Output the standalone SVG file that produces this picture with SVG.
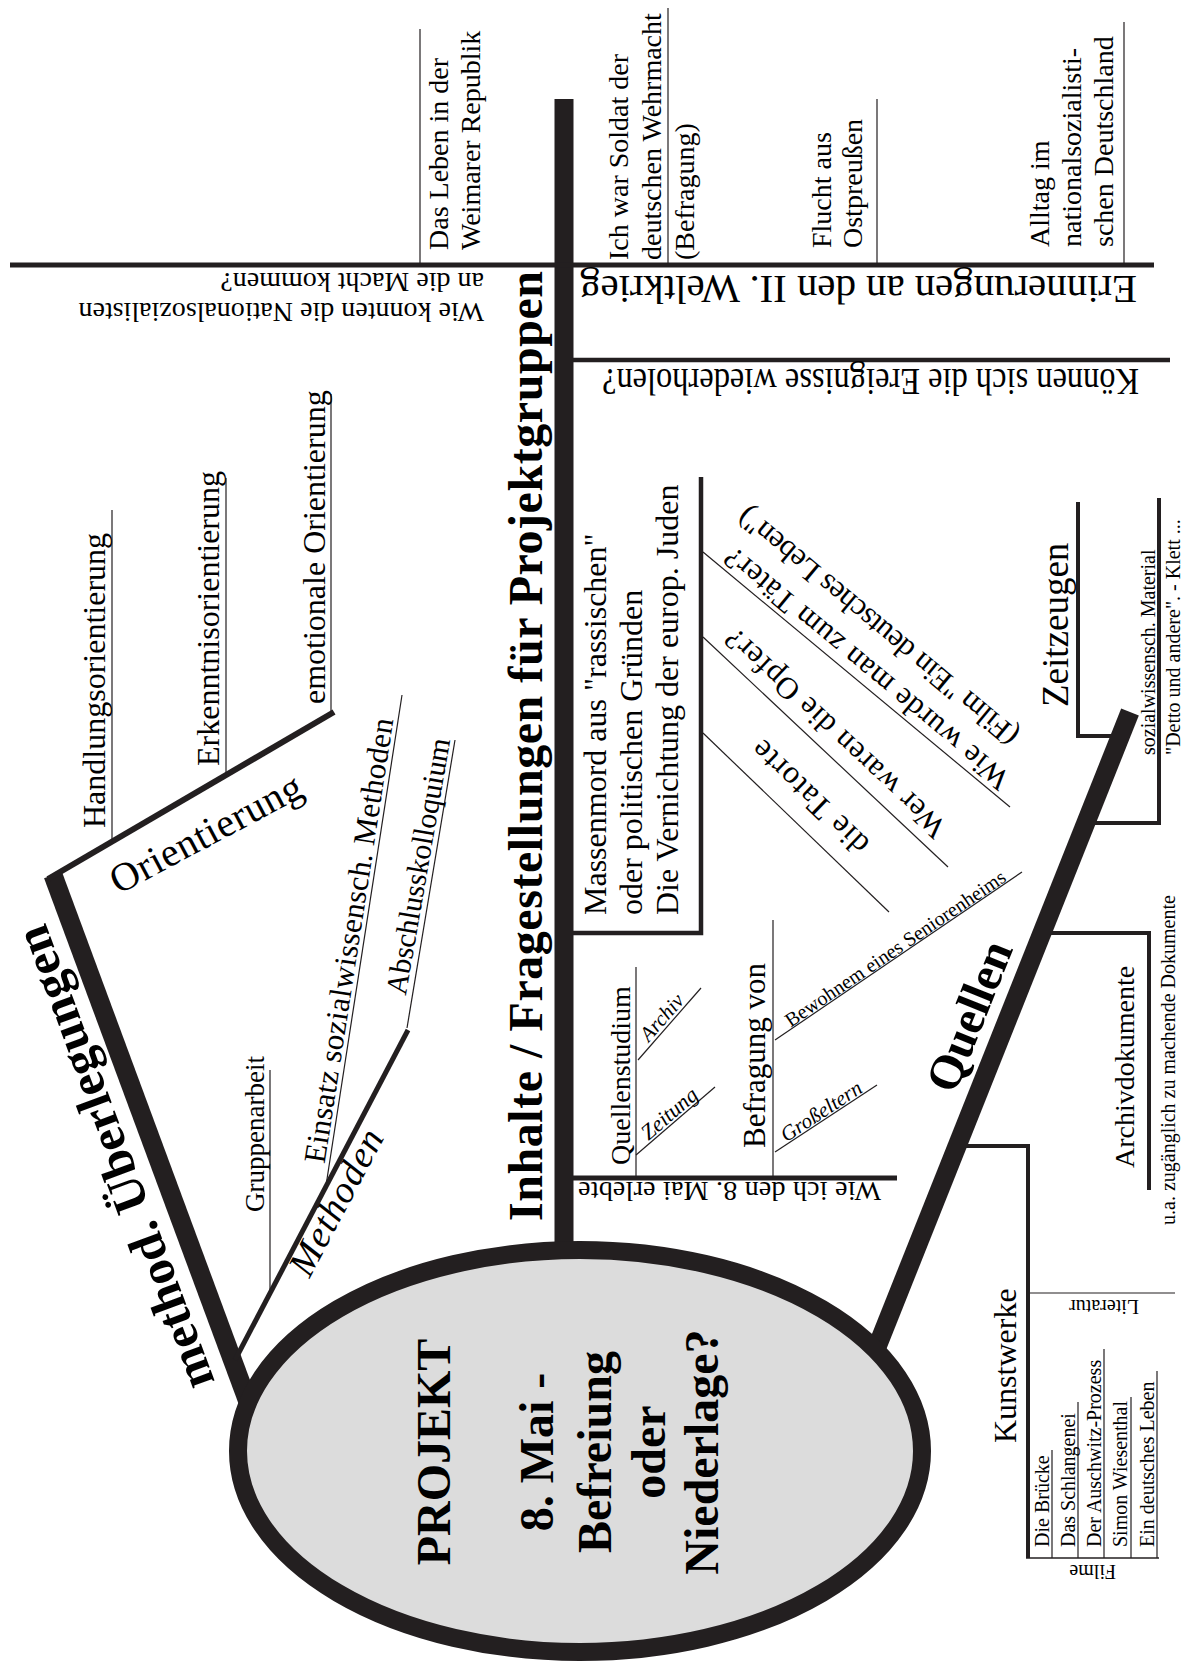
<svg xmlns="http://www.w3.org/2000/svg" width="1190" height="1668" viewBox="0 0 1190 1668">
<style>
.t{font-family:"Liberation Serif","Times New Roman",serif;fill:#000}
.b{font-weight:bold}
.i{font-style:italic}
.ln{stroke:#231f20;fill:none;stroke-linecap:butt}
.th{stroke-width:1.2}
.md{stroke-width:4.5}
.bar{stroke-width:19}
</style>
<rect width="1190" height="1668" fill="#fff"/>
<g id="connectors">
  <line class="ln bar" x1="564" y1="99" x2="564" y2="1252"/>
  <line class="ln" stroke-width="5" x1="10" y1="265" x2="1154" y2="265"/>
  <line class="ln md" x1="570" y1="360" x2="1170" y2="360"/>
  <line class="ln th" x1="420" y1="29" x2="420" y2="265"/>
  <line class="ln th" x1="668" y1="8" x2="668" y2="265"/>
  <line class="ln th" x1="877" y1="99" x2="877" y2="265"/>
  <line class="ln th" x1="1124" y1="22" x2="1124" y2="265"/>
  <line class="ln bar" x1="53" y1="875" x2="248" y2="1402"/>
  <line class="ln" stroke-width="6" x1="48" y1="879" x2="334" y2="712"/>
  <line class="ln th" x1="112" y1="510" x2="112" y2="843"/>
  <line class="ln th" x1="226" y1="478" x2="226" y2="776"/>
  <line class="ln th" x1="331" y1="394" x2="331" y2="715"/>
  <line class="ln" stroke-width="5" x1="235" y1="1360" x2="408" y2="1030"/>
  <line class="ln th" stroke="#666" x1="270" y1="1070" x2="270" y2="1294"/>
  <line class="ln th" x1="325" y1="1192" x2="402" y2="695"/>
  <line class="ln th" x1="407" y1="1028" x2="455" y2="740"/>
  <polyline class="ln md" points="570,933 701,933 701,477"/>
  <line class="ln th" x1="703" y1="552" x2="1010" y2="807"/>
  <line class="ln th" x1="703" y1="637" x2="948" y2="867"/>
  <line class="ln th" x1="703" y1="733" x2="889" y2="912"/>
  <line class="ln" stroke-width="5" x1="570" y1="1178" x2="897" y2="1178"/>
  <line class="ln th" x1="636" y1="967" x2="636" y2="1178"/>
  <line class="ln th" x1="773" y1="920" x2="773" y2="1178"/>
  <line class="ln th" x1="638" y1="1060" x2="701" y2="988"/>
  <line class="ln th" x1="636" y1="1155" x2="715" y2="1087"/>
  <line class="ln th" x1="775" y1="1040" x2="1022" y2="872"/>
  <line class="ln th" x1="775" y1="1152" x2="877" y2="1085"/>
  <line class="ln bar" x1="1130" y1="712" x2="875" y2="1352"/>
  <polyline class="ln" stroke-width="4" points="1078,502 1078,736 1118,736"/>
  <polyline class="ln" stroke-width="4" points="1159,498 1159,823 1092,823"/>
  <polyline class="ln" stroke-width="4" points="1045,933 1149,933 1149,1190"/>
  <polyline class="ln" stroke-width="4" points="960,1146 1028,1146 1028,1558"/>
  <line class="ln" stroke-width="1.6" x1="1026" y1="1558" x2="1159" y2="1558"/>
  <line class="ln th" x1="1030" y1="1293" x2="1175" y2="1293"/>
  <line class="ln th" x1="1052" y1="1450" x2="1052" y2="1558"/>
  <line class="ln th" x1="1078" y1="1402" x2="1078" y2="1558"/>
  <line class="ln th" x1="1104" y1="1349" x2="1104" y2="1558"/>
  <line class="ln th" x1="1131" y1="1397" x2="1131" y2="1558"/>
  <line class="ln th" x1="1157" y1="1371" x2="1157" y2="1558"/>
</g>
<g id="projekt">
  <ellipse cx="580" cy="1451" rx="342" ry="201" fill="#dcdcdc" stroke="#231f20" stroke-width="18"/>
  <text class="t b" font-size="48" text-anchor="middle" transform="translate(450 1452) rotate(-90)">PROJEKT</text>
  <text class="t b" font-size="48" text-anchor="middle" transform="translate(553 1452) rotate(-90)">8. Mai -</text>
  <text class="t b" font-size="48" text-anchor="middle" transform="translate(611 1452) rotate(-90)">Befreiung</text>
  <text class="t b" font-size="48" text-anchor="middle" transform="translate(665 1452) rotate(-90)">oder</text>
  <text class="t b" font-size="48" text-anchor="middle" transform="translate(718 1452) rotate(-90)">Niederlage?</text>
</g>
<g id="inhalte">
  <text class="t b" font-size="48" textLength="950" lengthAdjust="spacing" transform="translate(542 1221) rotate(-90)">Inhalte / Fragestellungen für Projektgruppen</text>
</g>
<g id="weimar">
  <text class="t" font-size="28" transform="translate(448 250) rotate(-90)"><tspan x="0" y="0">Das Leben in der</tspan><tspan x="0" y="32">Weimarer Republik</tspan></text>
</g>
<g id="machtergreifung">
  <text class="t" font-size="28" transform="translate(484 303) rotate(180)"><tspan x="0" y="0">Wie konnten die Nationalsozialisten</tspan><tspan x="0" y="30">an die Macht kommen?</tspan></text>
</g>
<g id="soldat">
  <text class="t" font-size="28" transform="translate(628 260) rotate(-90)"><tspan x="0" y="0">Ich war Soldat der</tspan><tspan x="0" y="33">deutschen Wehrmacht</tspan><tspan x="0" y="66">(Befragung)</tspan></text>
</g>
<g id="flucht">
  <text class="t" font-size="28" transform="translate(831 248) rotate(-90)"><tspan x="0" y="0">Flucht aus</tspan><tspan x="0" y="31">Ostpreußen</tspan></text>
</g>
<g id="alltag">
  <text class="t" font-size="28" transform="translate(1049 247) rotate(-90)"><tspan x="0" y="0">Alltag im</tspan><tspan x="0" y="32">nationalsozialisti-</tspan><tspan x="0" y="64">schen Deutschland</tspan></text>
</g>
<g id="erinnerungen">
  <text class="t" font-size="41" textLength="557" lengthAdjust="spacing" transform="translate(1137 276) rotate(180)">Erinnerungen an den II. Weltkrieg</text>
</g>
<g id="wiederholen">
  <text class="t" font-size="38" textLength="537" lengthAdjust="spacingAndGlyphs" transform="translate(1139 369) rotate(180)">Können sich die Ereignisse wiederholen?</text>
</g>
<g id="massenmord">
  <text class="t" font-size="32" transform="translate(606 915) rotate(-90)"><tspan x="0" y="0">Massenmord aus "rassischen"</tspan><tspan x="0" y="36">oder politischen Gründen</tspan><tspan x="0" y="72">Die Vernichtung der europ. Juden</tspan></text>
</g>
<g id="taeter">
  <text class="t" font-size="31" text-anchor="middle" textLength="360" lengthAdjust="spacing" transform="translate(873 661) rotate(-140.3)">Wie wurde man zum Täter?</text>
  <text class="t" font-size="31" text-anchor="middle" textLength="355" lengthAdjust="spacing" transform="translate(884 619) rotate(-140.3)">(Film "Ein deutsches Leben")</text>
</g>
<g id="opfer">
  <text class="t" font-size="31" text-anchor="middle" textLength="290" lengthAdjust="spacing" transform="translate(842 726) rotate(-136.8)">Wer waren die Opfer?</text>
</g>
<g id="tatorte">
  <text class="t" font-size="32" text-anchor="middle" textLength="150" lengthAdjust="spacing" transform="translate(817 790) rotate(-136.1)">die Tatorte</text>
</g>
<g id="mai-erlebt">
  <text class="t" font-size="28" textLength="303" lengthAdjust="spacing" transform="translate(881 1182) rotate(180)">Wie ich den 8. Mai erlebte</text>
</g>
<g id="quellenstudium">
  <text class="t" font-size="28" transform="translate(630 1165) rotate(-90)">Quellenstudium</text>
  <text class="t i" font-size="21" text-anchor="middle" transform="translate(667 1022) rotate(-48.8)">Archiv</text>
  <text class="t i" font-size="22" text-anchor="middle" transform="translate(674 1119) rotate(-40.7)">Zeitung</text>
</g>
<g id="befragung">
  <text class="t" font-size="31" transform="translate(765 1148) rotate(-90)">Befragung von</text>
  <text class="t" font-size="20" text-anchor="middle" textLength="262" lengthAdjust="spacing" transform="translate(899 954) rotate(-34.2)">Bewohnem eines Seniorenheims</text>
  <text class="t i" font-size="21" text-anchor="middle" transform="translate(825 1117) rotate(-33.3)">Großeltern</text>
</g>
<g id="methodisch">
  <text class="t b" font-size="50" text-anchor="middle" textLength="490" lengthAdjust="spacing" transform="translate(130 1152) rotate(-110.3)">method. Überlegungen</text>
</g>
<g id="orientierung">
  <text class="t" font-size="40" text-anchor="middle" textLength="212" lengthAdjust="spacing" transform="translate(212 845) rotate(-28)">Orientierung</text>
  <text class="t" font-size="32" transform="translate(105 828) rotate(-90)">Handlungsorientierung</text>
  <text class="t" font-size="32" transform="translate(219 766) rotate(-90)">Erkenntnisorientierung</text>
  <text class="t" font-size="32" transform="translate(325 704) rotate(-90)">emotionale Orientierung</text>
</g>
<g id="methoden">
  <text class="t i" font-size="38" text-anchor="middle" textLength="160" lengthAdjust="spacing" transform="translate(347 1208) rotate(-62)">Methoden</text>
  <text class="t" font-size="27" transform="translate(264 1212) rotate(-90)">Gruppenarbeit</text>
  <text class="t" font-size="31" text-anchor="middle" textLength="450" lengthAdjust="spacing" transform="translate(359 942) rotate(-81.2)">Einsatz sozialwissensch. Methoden</text>
  <text class="t" font-size="30" text-anchor="middle" textLength="260" lengthAdjust="spacing" transform="translate(428 868) rotate(-80.1)">Abschlusskolloquium</text>
</g>
<g id="quellen">
  <text class="t b" font-size="48" text-anchor="middle" textLength="158" lengthAdjust="spacing" transform="translate(984 1022) rotate(-68.2)">Quellen</text>
</g>
<g id="zeitzeugen">
  <text class="t" font-size="37" transform="translate(1068 707) rotate(-90)">Zeitzeugen</text>
</g>
<g id="material">
  <text class="t" font-size="20" transform="translate(1155 755) rotate(-90)"><tspan x="0" y="0">sozialwissensch. Material</tspan><tspan x="0" y="25">"Detto und andere". - Klett ...</tspan></text>
</g>
<g id="archivdokumente">
  <text class="t" font-size="28" transform="translate(1134 1168) rotate(-90)">Archivdokumente</text>
  <text class="t" font-size="20" transform="translate(1175 1225) rotate(-90)">u.a. zugänglich zu machende Dokumente</text>
</g>
<g id="kunstwerke">
  <text class="t" font-size="32" transform="translate(1016 1443) rotate(-90)">Kunstwerke</text>
  <text class="t" font-size="20" transform="translate(1139 1300) rotate(180)">Literatur</text>
  <text class="t" font-size="20" transform="translate(1116 1565) rotate(180)">Filme</text>
  <text class="t" font-size="20" transform="translate(1049 1547) rotate(-90)">Die Brücke</text>
  <text class="t" font-size="20" transform="translate(1075 1547) rotate(-90)">Das Schlangenei</text>
  <text class="t" font-size="20" transform="translate(1101 1547) rotate(-90)">Der Auschwitz-Prozess</text>
  <text class="t" font-size="20" transform="translate(1127 1547) rotate(-90)">Simon Wiesenthal</text>
  <text class="t" font-size="20" transform="translate(1154 1547) rotate(-90)">Ein deutsches Leben</text>
</g>
</svg>
